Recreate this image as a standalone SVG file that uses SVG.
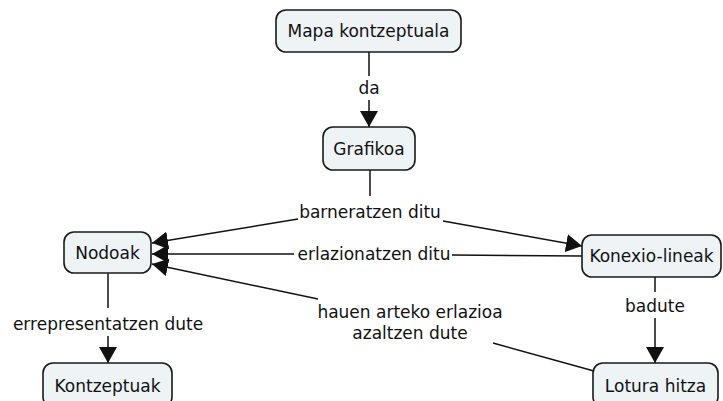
<svg xmlns="http://www.w3.org/2000/svg" width="723" height="401" viewBox="0 0 723 401">
<style>
.node rect{fill:#eef3f6;stroke:#1a1a1a;stroke-width:1.6}
text{font-family:"DejaVu Sans",Verdana,sans-serif;font-size:17px;fill:#111;text-anchor:middle}
.c line{stroke:#111;stroke-width:1.5;fill:none}
</style>
<defs>
<marker id="a" viewBox="0 0 16 18" refX="16" refY="9" markerWidth="16" markerHeight="18" markerUnits="userSpaceOnUse" orient="auto">
<path d="M0,0 L16,9 L0,18 Z" fill="#111"/>
</marker>
</defs>
<rect width="723" height="401" fill="#fff"/>
<g class="c" id="connectors">
<line x1="369" y1="52" x2="369" y2="76"/>
<text x="369" y="94">da</text>
<line x1="369" y1="100" x2="369" y2="127" marker-end="url(#a)"/>
<line x1="370" y1="170" x2="370" y2="196"/>
<text x="370" y="218">barneratzen ditu</text>
<line x1="298" y1="219" x2="152" y2="243" marker-end="url(#a)"/>
<line x1="443" y1="221" x2="582" y2="246" marker-end="url(#a)"/>
<line x1="582" y1="256" x2="452" y2="255"/>
<text x="374" y="260">erlazionatzen ditu</text>
<line x1="294" y1="254" x2="152" y2="254" marker-end="url(#a)"/>
<line x1="318" y1="299" x2="152" y2="264" marker-end="url(#a)"/>
<text x="410" y="318">hauen arteko erlazioa</text>
<text x="410" y="339">azaltzen dute</text>
<line x1="493" y1="343" x2="594" y2="371"/>
<line x1="108" y1="273" x2="108" y2="308"/>
<text x="108" y="330">errepresentatzen dute</text>
<line x1="108" y1="336" x2="108" y2="363" marker-end="url(#a)"/>
<line x1="655" y1="277" x2="655" y2="292"/>
<text x="655" y="312">badute</text>
<line x1="655" y1="318" x2="655" y2="363" marker-end="url(#a)"/>
</g>
<g class="node" id="n-mapa"><rect x="276" y="10" width="185" height="42" rx="10"/><text x="368.5" y="37">Mapa kontzeptuala</text></g>
<g class="node" id="n-grafikoa"><rect x="323" y="127" width="92" height="43" rx="10"/><text x="369" y="155">Grafikoa</text></g>
<g class="node" id="n-nodoak"><rect x="64" y="232" width="87" height="41" rx="10"/><text x="107.5" y="259">Nodoak</text></g>
<g class="node" id="n-konexio"><rect x="582" y="235" width="139" height="42" rx="10"/><text x="651.5" y="262">Konexio-lineak</text></g>
<g class="node" id="n-kontzeptuak"><rect x="43" y="363" width="129" height="44" rx="10"/><text x="107.5" y="392">Kontzeptuak</text></g>
<g class="node" id="n-lotura"><rect x="593" y="363" width="125" height="44" rx="10"/><text x="655.5" y="392">Lotura hitza</text></g>
</svg>
